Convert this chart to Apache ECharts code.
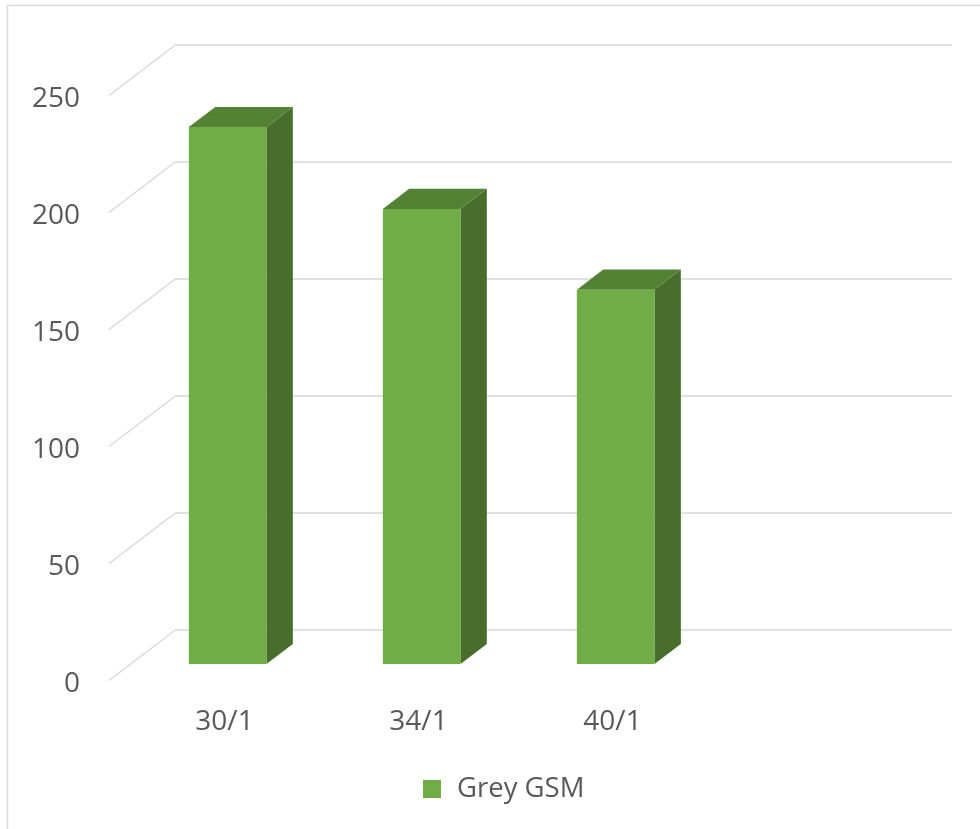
<!DOCTYPE html>
<html>
<head>
<meta charset="utf-8">
<style>
  html, body { margin: 0; padding: 0; background: #ffffff; }
  #chart { width: 980px; height: 829px; }
</style>
<script src="https://cdn.jsdelivr.net/npm/echarts@6/dist/echarts.min.js"></script>
</head>
<body>
<div id="chart"></div>
<script>
// Yarn counts and their grey fabric weight
const categories = ['30/1', '34/1', '40/1', ''];
const greyGsm = [229.5, 194.5, 160];
const seriesName = 'Grey GSM';
const yTicks = [0, 50, 100, 150, 200, 250];

// Oblique 3D look: the front plane sits this far left/down of the back wall
const DEPTH_DX = -67;
const DEPTH_DY = 51;
// Bar occupies this slice of the depth (0 = back wall, 1 = front plane)
const BAR_FRONT = 0.677;
const BAR_BACK = 0.283;
const BAR_WIDTH = 0.4;

const FRONT_COLOR = '#70AD47';
const TOP_COLOR = '#548235';
const SIDE_COLOR = '#476F2B';
const GRID_COLOR = '#D9D9D9';
const TEXT_COLOR = '#595959';
const FONT = '"Open Sans", sans-serif';

const chart = echarts.init(document.getElementById('chart'), null, { renderer: 'canvas' });

function renderBar(params, api) {
  const idx = api.value(0);
  const val = api.value(1);
  const top = api.coord([idx, val]);
  const base = api.coord([idx, 0]);
  const bw = api.size([1, 0])[0] * BAR_WIDTH;
  const fdx = DEPTH_DX * BAR_FRONT, fdy = DEPTH_DY * BAR_FRONT;
  const bdx = DEPTH_DX * BAR_BACK, bdy = DEPTH_DY * BAR_BACK;

  const fl = top[0] + fdx - bw / 2, fr = top[0] + fdx + bw / 2;
  const ft = top[1] + fdy, fb = base[1] + fdy;
  const bl = top[0] + bdx - bw / 2, br = top[0] + bdx + bw / 2;
  const bt = top[1] + bdy, bb = base[1] + bdy;

  return {
    type: 'group',
    children: [
      {
        type: 'polygon',
        shape: { points: [[fr, ft], [br, bt], [br, bb], [fr, fb]] },
        style: { fill: SIDE_COLOR }
      },
      {
        type: 'polygon',
        shape: { points: [[fl, ft], [fr, ft], [br, bt], [bl, bt]] },
        style: { fill: TOP_COLOR }
      },
      {
        type: 'rect',
        shape: { x: fl, y: ft, width: bw, height: fb - ft },
        style: { fill: FRONT_COLOR }
      }
    ]
  };
}

function renderFloorLine(params, api) {
  const v = api.value(0);
  const x0 = params.coordSys.x;
  const p = api.coord([0, v]);
  return {
    type: 'line',
    shape: { x1: x0 + DEPTH_DX, y1: p[1] + DEPTH_DY, x2: x0, y2: p[1] },
    style: { stroke: GRID_COLOR, lineWidth: 1.5 }
  };
}

const option = {
  backgroundColor: '#ffffff',
  animation: false,
  textStyle: { fontFamily: FONT },
  graphic: [{
    type: 'rect',
    shape: { x: 7.5, y: 5.5, width: 1000, height: 1000 },
    style: { fill: 'none', stroke: GRID_COLOR, lineWidth: 1.5 },
    silent: true
  }],
  legend: {
    data: [seriesName],
    left: 423,
    top: 775,
    padding: 0,
    icon: 'rect',
    itemWidth: 18,
    itemHeight: 18,
    textStyle: { fontSize: 27.5, color: TEXT_COLOR, fontFamily: FONT, padding: [0, 0, 0, 11] }
  },
  grid: [
    // back wall
    { left: 176, right: 28, top: 44.5, bottom: 199.5 },
    // front plane (value labels)
    { left: 109, right: 95, top: 99.5, bottom: 145 },
    // category label row
    { left: 127.5, right: 76.5, top: 95.5, bottom: 149 }
  ],
  xAxis: [
    { gridIndex: 0, type: 'category', data: categories, show: false },
    { gridIndex: 1, type: 'category', data: categories, show: false },
    {
      gridIndex: 2, type: 'category', data: categories,
      axisLine: { show: false }, axisTick: { show: false },
      axisLabel: { fontSize: 28, color: TEXT_COLOR, fontFamily: FONT, margin: 28, interval: 0 }
    }
  ],
  yAxis: [
    {
      gridIndex: 0, type: 'value', min: 0, max: 250, interval: 50,
      axisLine: { show: false }, axisTick: { show: false }, axisLabel: { show: false },
      splitLine: { lineStyle: { color: GRID_COLOR, width: 1.5 } }
    },
    {
      gridIndex: 1, type: 'value', min: 0, max: 250, interval: 50,
      axisLine: { show: false }, axisTick: { show: false }, splitLine: { show: false },
      axisLabel: { fontSize: 28, color: TEXT_COLOR, fontFamily: FONT, margin: 29 }
    },
    {
      gridIndex: 2, type: 'value', min: 0, max: 250, interval: 50, show: false
    }
  ],
  series: [
    {
      type: 'custom',
      name: 'floor',
      xAxisIndex: 0, yAxisIndex: 0,
      renderItem: renderFloorLine,
      data: yTicks.map(v => [v]),
      encode: { y: 0 },
      silent: true,
      z: 1
    },
    {
      type: 'custom',
      name: seriesName,
      xAxisIndex: 0, yAxisIndex: 0,
      renderItem: renderBar,
      itemStyle: { color: FRONT_COLOR },
      data: greyGsm.map((v, i) => [i, v]),
      encode: { x: 0, y: 1 },
      z: 3
    }
  ]
};

chart.setOption(option);
</script>
</body>
</html>
